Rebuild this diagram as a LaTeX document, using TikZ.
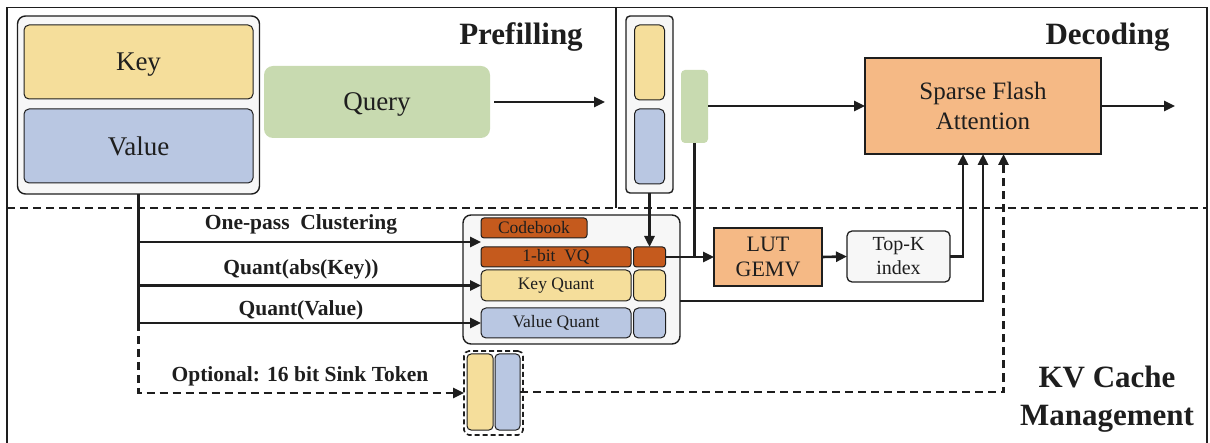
\documentclass[tikz,border=0pt]{standalone}
\usepackage{fontspec}
\setmainfont{Liberation Serif}
\usetikzlibrary{arrows.meta,calc}

\definecolor{keyc}{HTML}{F5DE9B}
\definecolor{valc}{HTML}{B9C7E2}
\definecolor{qryc}{HTML}{C8DAB0}
\definecolor{opc}{HTML}{F5B985}
\definecolor{vqc}{HTML}{C55A1D}
\definecolor{panel}{HTML}{F7F7F7}
\definecolor{ink}{HTML}{1E1E1E}

\tikzset{
  every node/.style={inner sep=0pt, outer sep=0pt, text=ink},
  panelbox/.style={draw=ink, line width=1.4pt, fill=panel, rounded corners=8pt},
  cell/.style={draw=ink, line width=1pt, rounded corners=5pt},
  keycell/.style={cell, fill=keyc},
  valcell/.style={cell, fill=valc},
  vqcell/.style={cell, fill=vqc, rounded corners=3pt},
  opbox/.style={draw=ink, line width=1.5pt, fill=opc},
  wire/.style={draw=ink, line width=2.6pt},
  flow/.style={wire, -{Triangle[length=11pt,width=10pt]}},
  dashline/.style={dash pattern=on 8pt off 5pt},
  title/.style={font=\fontsize{31}{37}\selectfont\bfseries},
  lbl/.style={font=\fontsize{21.5}{24}\selectfont\bfseries},
  big/.style={font=\fontsize{27}{30}\selectfont, text depth=0pt},
  small/.style={font=\fontsize{17.5}{20}\selectfont},
}

\begin{document}
\begin{tikzpicture}[x=1pt,y=-1pt]
\useasboundingbox (0,0) rectangle (1210,443);

% frame and section dividers
\draw[ink, line width=1.5pt] (7,447) -- (7,7.5) -- (1207,7.5) -- (1207,447);
\draw[ink, line width=1.5pt] (616,7.5) -- (616,208);
\draw[ink, line width=1.7pt, dashline] (7,208) -- (1207,208);

% section titles
\node[title, anchor=base] (tpre) at (521,45) {Prefilling};
\node[title, anchor=base] (tdec) at (1107.5,45) {Decoding};
\node[title, anchor=base] (tkv1) at (1107,388) {KV Cache};
\node[title, anchor=base] (tkv2) at (1107,425) {Management};

% prefilling: key / value cache and query
\node[panelbox, minimum width=242, minimum height=178] (kvall) at (138.5,105) {};
\node[keycell, big, minimum width=229, minimum height=74] (key) at (138.5,62) {Key};
\node[valcell, big, minimum width=229, minimum height=74] (value) at (138.5,146) {Value};
\node[fill=qryc, rounded corners=9pt, big, minimum width=226, minimum height=72] (query) at (377,102) {Query};
\coordinate (qout) at (605,102);
\draw[flow] (query.east) ++(4,0) -- (qout);

% decoding: cached key/value column and the new query
\node[panelbox, rounded corners=4pt, minimum width=47, minimum height=177] (dcol) at (649.5,104.5) {};
\node[keycell, minimum width=30, minimum height=75] (dkey) at (649.5,62.5) {};
\node[valcell, minimum width=30, minimum height=75] (dval) at (649.5,146.5) {};
\node[fill=qryc, rounded corners=4pt, minimum width=27, minimum height=73] (dq) at (694.5,106.5) {};

\node[opbox, font=\fontsize{25}{30}\selectfont, align=center, minimum width=236, minimum height=96] (sfa) at (983,106) {Sparse Flash\\Attention};
\coordinate (out) at (1175,106);
\draw[flow] (dq.east |- sfa.west) -- (sfa.west);
\draw[flow] (sfa.east) -- (out);

% quantized cache store
\node[panelbox, minimum width=217, minimum height=129] (qstore) at (571.5,279.5) {};
\node[vqcell, small, minimum width=106, minimum height=20] (codebook) at (534,228) {Codebook};
\node[vqcell, small, minimum width=150, minimum height=20] (vq) at (556,257) {1-bit\ \ VQ};
\node[vqcell, minimum width=32, minimum height=20] (vqs) at (649.5,257) {};
\node[keycell, small, minimum width=150, minimum height=31] (kq) at (556,285.5) {Key Quant};
\node[keycell, minimum width=32, minimum height=31] (kqs) at (649.5,285.5) {};
\node[valcell, small, minimum width=150, minimum height=30] (vquant) at (556,323) {Value Quant};
\node[valcell, minimum width=32, minimum height=30] (vqs2) at (649.5,323) {};

% sink token kept in 16 bit
\node[draw=ink, line width=1.6pt, dash pattern=on 5pt off 3pt, rounded corners=5pt, minimum width=59, minimum height=84] (sink) at (493.5,393) {};
\node[keycell, rounded corners=4pt, minimum width=26, minimum height=76] (sinkk) at (480,392) {};
\node[valcell, rounded corners=4pt, minimum width=25, minimum height=76] (sinkv) at (507.5,392) {};

% LUT GEMV and top-k selection
\node[opbox, font=\fontsize{22}{25}\selectfont, align=center, minimum width=108, minimum height=58] (lut) at (768,257) {LUT\\GEMV};
\node[draw=ink, line width=1.3pt, fill=panel, rounded corners=5pt, font=\fontsize{20}{24}\selectfont, align=center, minimum width=103, minimum height=51] (topk) at (898.5,256.5) {Top-K\\index};

% cache management paths
\coordinate (cbin) at (481,242);
\draw[wire] (kvall.south) -- (kvall.south |- vquant.west);
\draw[flow] (kvall.south |- cbin) -- (cbin);
\draw[flow] (kvall.south |- kq.west) -- (kq.west);
\draw[flow] (kvall.south |- vquant.west) -- (vquant.west);
\draw[flow, dashline] (kvall.south |- vquant.west) |- (sink.west);

\node[lbl, anchor=base] (l1) at (301,230) {One-pass\ \ Clustering};
\node[lbl, anchor=base] (l2) at (301,275) {Quant(abs(Key))};
\node[lbl, anchor=base] (l3) at (301,316) {Quant(Value)};
\node[lbl, anchor=base] (l4) at (300,382) {Optional: 16 bit Sink Token};

% decoding data flow
\draw[flow] (dcol.south) -- (vqs.north);
\draw[wire] (dq.south) -- (dq.south |- lut.west);
\draw[flow] (vqs.east) -- (lut.west);
\draw[flow] (lut.east) -- (topk.west);
\draw[flow] (topk.east) -| ([xshift=-20pt]sfa.south);
\draw[flow] (qstore.east |- kq.south) -| (sfa.south);
\draw[flow, dashline] (sinkv.east) -| ([xshift=20.5pt]sfa.south);
\end{tikzpicture}
\end{document}
